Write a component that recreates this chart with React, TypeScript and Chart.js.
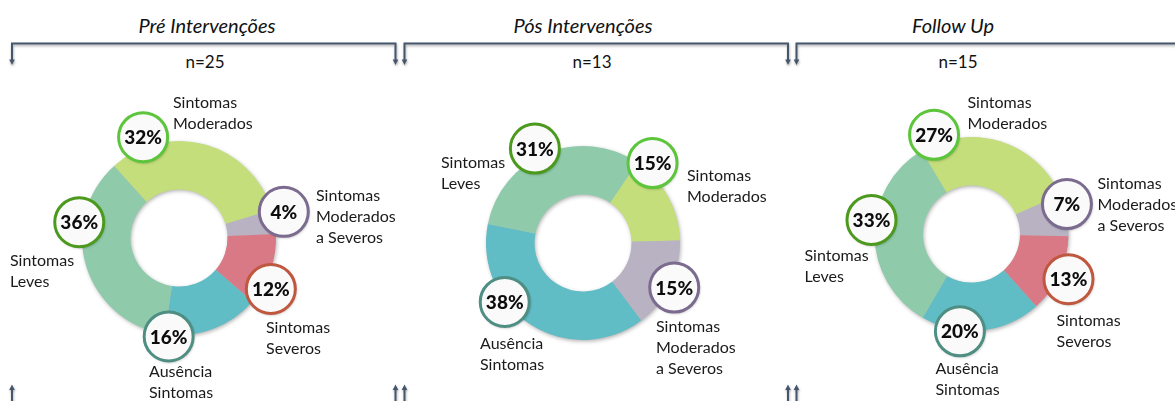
import React, { useEffect, useRef } from 'react';
import { Chart, registerables } from 'chart.js';

Chart.register(...registerables);

// ---------- data ----------
const categories = [
  'Sintomas Moderados',
  'Sintomas Moderados a Severos',
  'Sintomas Severos',
  'Ausência Sintomas',
  'Sintomas Leves',
];
const categoryLines = [
  ['Sintomas', 'Moderados'],
  ['Sintomas', 'Moderados', 'a Severos'],
  ['Sintomas', 'Severos'],
  ['Ausência', 'Sintomas'],
  ['Sintomas', 'Leves'],
];
const preValues = [32, 4, 12, 16, 36];
const posValues = [15, 15, 0, 38, 31];
const followValues = [27, 7, 13, 20, 33];
const panelTitles = ['Pré Intervenções', 'Pós Intervenções', 'Follow Up'];
const sampleSizes = [25, 13, 15];

// ---------- styles ----------
const W = 1175;
const H = 401;
const R = 97;
const sliceColors = ['#c4de7b', '#b8b2c3', '#d97985', '#60bcc5', '#8fcbab'];
const ringColors = ['#5cc53b', '#7b6b8f', '#c0573f', '#4f8e83', '#4c9a1d'];
const LABEL_FONT = '"Lato", "Open Sans", sans-serif';

type Layout = {
  cx: number;
  cy: number;
  rotation: number;
  titleX: number;
  nX: number;
  circleAngle: number[];
  circleDist: number[];
  labelDx: number[];
  labelDy: number[];
};

const layouts: Layout[] = [
  {
    cx: 179, cy: 238, rotation: -42, titleX: 207, nX: 205,
    circleAngle: [-19.6, 76, 119, 186, 279],
    circleDist: [107, 108, 105, 99, 101],
    labelDx: [-6, 137, 87, -30, -169],
    labelDy: [-135, -42, 90, 134, 23],
  },
  {
    cx: 583, cy: 243, rotation: 34, titleX: 583, nX: 592,
    circleAngle: [41, 116, 0, 233, 333],
    circleDist: [106, 101.5, 0, 98, 106],
    labelDx: [104, 73, 0, -103, -142],
    labelDy: [-67, 84, 0, 101, -80],
  },
  {
    cx: 971.5, cy: 234, rotation: -31, titleX: 953, nX: 958,
    circleAngle: [-20.7, 72.6, 115, 186.8, 278],
    circleDist: [106, 100, 107, 98, 101],
    labelDx: [-4, 126, 85, -36, -167],
    labelDy: [-131, -50, 87, 135, 22],
  },
];
const panelValues = [preValues, posValues, followValues];
const bracketSpans = [
  [12, 395.5],
  [404.5, 788],
  [796.5, 1200],
];

const ringShadowPlugin = {
  id: 'ringShadow',
  beforeDatasetsDraw(chart: any) {
    const meta = chart.getDatasetMeta(0);
    const arc = meta.data[0];
    if (!arc) return;
    const { x, y, outerRadius, innerRadius } = arc as any;
    const ctx = chart.ctx as CanvasRenderingContext2D;
    ctx.save();
    ctx.shadowColor = 'rgba(0,0,0,0.35)';
    ctx.shadowBlur = 4;
    ctx.shadowOffsetX = 1;
    ctx.shadowOffsetY = 1.5;
    ctx.fillStyle = '#bbbbbb';
    ctx.beginPath();
    ctx.arc(x, y, outerRadius - 0.5, 0, Math.PI * 2);
    ctx.arc(x, y, innerRadius + 0.5, 0, Math.PI * 2, true);
    ctx.fill();
    ctx.restore();
  },
};

function makeLabelPlugin(layout: Layout, values: number[]) {
  return {
    id: 'bubbleLabels',
    afterDatasetsDraw(chart: any) {
      const meta = chart.getDatasetMeta(0);
      const ctx = chart.ctx as CanvasRenderingContext2D;
      meta.data.forEach((el: any, i: number) => {
        if (!values[i]) return;
        const { x, y, outerRadius } = el;
        const k = outerRadius / R;
        const a = (layout.circleAngle[i] * Math.PI) / 180;
        const d = layout.circleDist[i] * k;
        const bx = x + d * Math.sin(a);
        const by = y - d * Math.cos(a);
        // bubble
        ctx.save();
        ctx.shadowColor = 'rgba(0,0,0,0.3)';
        ctx.shadowBlur = 3;
        ctx.shadowOffsetX = 1;
        ctx.shadowOffsetY = 1.5;
        ctx.beginPath();
        ctx.arc(bx, by, 24.5, 0, Math.PI * 2);
        ctx.fillStyle = '#fafafa';
        ctx.fill();
        ctx.restore();
        ctx.save();
        ctx.beginPath();
        ctx.arc(bx, by, 24.5, 0, Math.PI * 2);
        ctx.lineWidth = 3;
        ctx.strokeStyle = ringColors[i];
        ctx.stroke();
        ctx.fillStyle = '#0d0d0d';
        ctx.font = `900 19px ${LABEL_FONT}`;
        ctx.textAlign = 'center';
        ctx.textBaseline = 'middle';
        ctx.fillText(`${values[i]}%`, bx, by + 1);
        ctx.restore();
        // category label
        ctx.save();
        ctx.fillStyle = '#1a1a1a';
        ctx.font = `16px ${LABEL_FONT}`;
        ctx.textAlign = 'left';
        ctx.textBaseline = 'middle';
        const lx = x + layout.labelDx[i];
        const ly = y + layout.labelDy[i];
        categoryLines[i].forEach((line, j) => {
          ctx.fillText(line, lx, ly + j * 21);
        });
        ctx.restore();
      });
    },
  };
}

function Doughnut({ index }: { index: number }) {
  const ref = useRef<HTMLCanvasElement | null>(null);
  useEffect(() => {
    if (!ref.current) return;
    const layout = layouts[index];
    const values = panelValues[index];
    const chart = new Chart(ref.current, {
      type: 'doughnut',
      data: {
        labels: categories,
        datasets: [
          {
            data: values,
            backgroundColor: sliceColors,
            borderWidth: 0,
          },
        ],
      },
      options: {
        responsive: false,
        animation: false,
        events: [],
        rotation: layout.rotation,
        cutout: '50%',
        layout: {
          padding: {
            left: layout.cx - R,
            right: W - layout.cx - R,
            top: layout.cy - R,
            bottom: H - layout.cy - R,
          },
        },
        plugins: {
          legend: { display: false },
          tooltip: { enabled: false },
        },
      },
      plugins: [ringShadowPlugin, makeLabelPlugin(layout, values)],
    } as any);
    return () => chart.destroy();
  }, [index]);
  return (
    <canvas
      ref={ref}
      width={W}
      height={H}
      style={{ position: 'absolute', left: 0, top: 0, width: W, height: H }}
    />
  );
}

function Brackets() {
  const stroke = '#44546a';
  return (
    <svg
      width={W}
      height={H}
      style={{ position: 'absolute', left: 0, top: 0 }}
    >
      <defs>
        <filter id="sh" x="-5%" y="-50%" width="110%" height="200%">
          <feDropShadow dx="0.5" dy="1.5" stdDeviation="1" floodColor="#000" floodOpacity="0.35" />
        </filter>
      </defs>
      {bracketSpans.map(([x1, x2], i) => (
        <g key={i} filter="url(#sh)">
          <path
            d={`M${x1},61 L${x1},43.5 L${x2},43.5 L${x2},61`}
            fill="none"
            stroke={stroke}
            strokeWidth={2}
          />
          <path d={`M${x1 - 2.8},59.5 L${x1 + 2.8},59.5 L${x1},65 Z`} fill={stroke} />
          <path d={`M${x2 - 2.8},59.5 L${x2 + 2.8},59.5 L${x2},65 Z`} fill={stroke} />
          <line x1={x1} y1={H + 2} x2={x1} y2={389} stroke={stroke} strokeWidth={2} />
          <line x1={x2} y1={H + 2} x2={x2} y2={389} stroke={stroke} strokeWidth={2} />
          <path d={`M${x1 - 2.8},390 L${x1 + 2.8},390 L${x1},384.5 Z`} fill={stroke} />
          <path d={`M${x2 - 2.8},390 L${x2 + 2.8},390 L${x2},384.5 Z`} fill={stroke} />
        </g>
      ))}
    </svg>
  );
}

export default function App() {
  return (
    <div
      style={{
        position: 'fixed',
        left: 0,
        top: 0,
        width: W,
        height: H,
        background: '#ffffff',
        overflow: 'hidden',
        fontFamily: LABEL_FONT,
      }}
    >
      <Brackets />
      {layouts.map((l, i) => (
        <React.Fragment key={i}>
          <div
            style={{
              position: 'absolute',
              left: l.titleX,
              top: 25,
              transform: 'translate(-50%, -50%)',
              fontStyle: 'italic',
              fontSize: 20,
              color: '#111',
              whiteSpace: 'nowrap',
              lineHeight: 1,
            }}
          >
            {panelTitles[i]}
          </div>
          <div
            style={{
              position: 'absolute',
              left: l.nX,
              top: 61,
              transform: 'translate(-50%, -50%)',
              fontSize: 17,
              color: '#111',
              whiteSpace: 'nowrap',
              lineHeight: 1,
            }}
          >
            {`n=${sampleSizes[i]}`}
          </div>
        </React.Fragment>
      ))}
      {layouts.map((_, i) => (
        <Doughnut key={i} index={i} />
      ))}
    </div>
  );
}
